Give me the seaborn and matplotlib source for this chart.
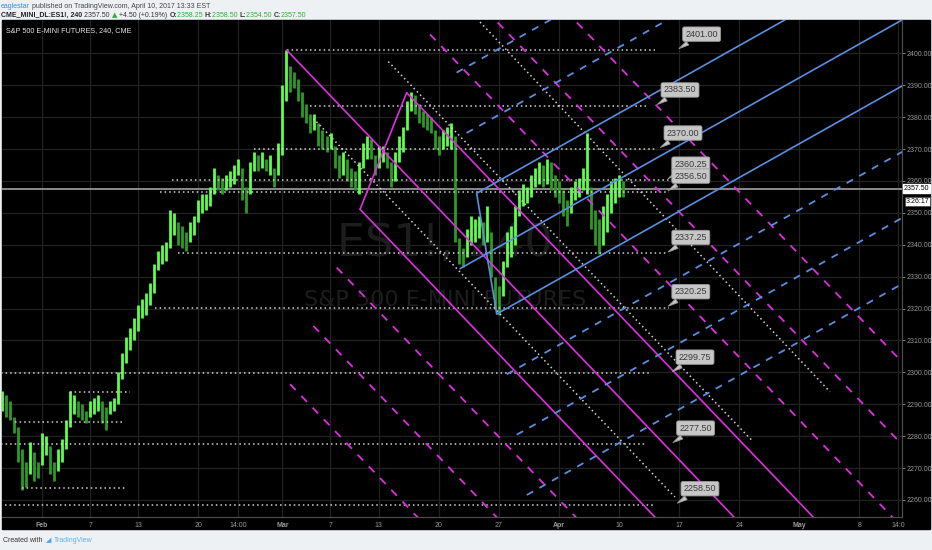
import matplotlib
matplotlib.use("Agg")
import matplotlib.pyplot as plt
import matplotlib.transforms as mtransforms
from matplotlib.patches import Rectangle
import numpy as np
import seaborn as sns

# ===== data =====
# x axis = trading-day index, 0 = Feb 1 2017 (futures chart skips weekends)
X_TICKS = [0, 4, 8, 13, 16.3, 20, 24, 28, 33, 38, 43, 48, 53, 58, 63, 68, 71.2]
X_LABELS = ["Feb", "7", "13", "20", "14:00", "Mar", "7", "13", "20", "27",
            "Apr", "10", "17", "24", "May", "8", "14:0"]
MONTHS = {"Feb", "Mar", "Apr", "May"}
Y_TICKS = list(range(2260, 2401, 10))

# 240 min bars (about three bars per trading day)
BAR_START = -3.33
BARS_PER_DAY = 3
BAR_HIGH = [2294, 2293, 2291, 2286, 2283, 2276, 2272, 2278, 2275, 2272,
            2281, 2280, 2277, 2272, 2276, 2279, 2285, 2294, 2293, 2291,
            2290, 2288, 2291, 2292, 2293, 2291, 2289, 2291, 2292, 2300,
            2306, 2311, 2314, 2317, 2321, 2323, 2325, 2328, 2334, 2338,
            2340, 2341, 2351, 2350, 2347, 2346, 2344, 2347, 2349, 2354,
            2356, 2356, 2358, 2364, 2362, 2361, 2362, 2363, 2365, 2367,
            2364, 2358, 2366, 2369, 2368, 2369, 2367, 2368, 2364, 2372,
            2390, 2401, 2396, 2394, 2392, 2388, 2384, 2381, 2381, 2378,
            2376, 2374, 2375, 2371, 2368, 2369, 2367, 2364, 2363, 2366,
            2372, 2374, 2373, 2368, 2371, 2371, 2369, 2366, 2369, 2374,
            2377, 2385, 2388, 2387, 2384, 2382, 2381, 2380, 2376, 2374,
            2376, 2377, 2378, 2374, 2342, 2339, 2345, 2349, 2348, 2349,
            2347, 2352, 2344, 2330, 2327, 2335, 2344, 2346, 2352, 2357,
            2359, 2358, 2362, 2364, 2366, 2365, 2367, 2366, 2362, 2360,
            2357, 2354, 2358, 2360, 2361, 2364, 2375, 2358, 2351, 2348,
            2352, 2356, 2360, 2361, 2362, 2360]
BAR_LOW = [2288, 2286, 2285, 2281, 2272, 2263, 2264, 2268, 2266, 2267,
           2271, 2274, 2268, 2266, 2269, 2272, 2276, 2283, 2287, 2286,
           2285, 2284, 2286, 2287, 2288, 2284, 2282, 2287, 2288, 2290,
           2298, 2303, 2307, 2310, 2313, 2317, 2318, 2321, 2325, 2332,
           2334, 2335, 2339, 2343, 2340, 2339, 2338, 2341, 2343, 2347,
           2350, 2351, 2352, 2356, 2357, 2356, 2357, 2358, 2359, 2362,
           2354, 2350, 2356, 2363, 2363, 2364, 2363, 2362, 2358, 2362,
           2368, 2385, 2388, 2389, 2385, 2380, 2378, 2375, 2376, 2371,
           2370, 2369, 2370, 2364, 2361, 2362, 2360, 2358, 2357, 2356,
           2364, 2367, 2367, 2362, 2364, 2366, 2364, 2358, 2360, 2366,
           2369, 2376, 2382, 2381, 2378, 2377, 2376, 2375, 2370, 2368,
           2370, 2371, 2370, 2341, 2334, 2333, 2336, 2340, 2341, 2342,
           2340, 2341, 2330, 2320, 2318, 2324, 2333, 2336, 2340, 2349,
           2352, 2353, 2355, 2358, 2359, 2358, 2359, 2357, 2355, 2353,
           2349, 2346, 2350, 2354, 2355, 2357, 2356, 2345, 2340, 2337,
           2340, 2344, 2350, 2353, 2355, 2355]
LAST_PRICE = 2357.50

# horizontal support / resistance levels with callouts
LEVELS = [2401.00, 2383.50, 2370.00, 2360.25, 2356.50, 2337.25, 2320.25,
          2299.75, 2277.50, 2258.50]
LEVEL_START = [20.4, 22.3, 17.6, 10.8, 9.8, 11.3, 9.4, -3.4, -3.4, -3.1]
LEVEL_END = [51.0, 50.4, 51.2, 52.4, 52.2, 52.0, 52.2, 50.7, 50.25, 51.0]
CALLOUT_AT = [52.8, 51.0, 51.25, 51.9, 51.9, 51.9, 51.9, 52.25, 52.3, 52.66]

# short levels in early February (no callout)
MINOR_LEVELS = [2293.9, 2284.5, 2263.6]
MINOR_START = [2.3, -2.25, -1.66]
MINOR_END = [7.3, 6.9, 6.9]

# pitchforks: handle A, B, C as (day index, price)
MAGENTA_FORK = [(20.36, 2401.0), (30.34, 2387.65), (26.46, 2351.1)]
MAGENTA_DASHED = [-4, -3, -2, 2, 3, 4]
BLUE_FORK = [(34.78, 2332.5), (36.16, 2356.11), (37.83, 2318.28)]
BLUE_DASHED = [-3, -2, 2, 3, 4]

# white dotted trend lines (start, end)
WHITE_LINES = [((28.81, 2397.4), (59.18, 2278.2)),
               ((22.57, 2379.6), (52.66, 2260.9)),
               ((36.44, 2409.8), (65.56, 2293.9))]

HEADER_1 = [("eaglestar", "#2f8ee0", "normal"),
            (" published on TradingView.com, April 10, 2017 13:33 EST", "#444444", "normal")]
HEADER_2 = [("CME_MINI_DL:ES1!, 240 ", "#222222", "bold"),
            ("2357.50 ", "#333333", "normal"),
            ("\u25b2", "#2fae3a", "normal"),
            (" +4.50 (+0.19%) ", "#333333", "normal"),
            ("O:", "#333333", "bold"), ("2358.25 ", "#2fae3a", "normal"),
            ("H:", "#333333", "bold"), ("2358.50 ", "#2fae3a", "normal"),
            ("L:", "#333333", "bold"), ("2354.50 ", "#2fae3a", "normal"),
            ("C:", "#333333", "bold"), ("2357.50", "#2fae3a", "normal")]
FOOTER = [("Created with  ", "#333333", "normal"),
          ("\u25e2 ", "#4aa3e8", "normal"),
          ("TradingView", "#5cb0ee", "normal")]

# ===== style =====
sns.set_theme(style="dark")
plt.rcParams["font.family"] = ["Liberation Sans", "DejaVu Sans"]

W, H = 932, 550
XMIN, XMAX = -3.328, 71.55
YMIN, YMAX = 2254.64, 2410.44

MAGENTA = "#e02ee0"
BLUE = "#5b8fe0"
DOTS = "#d2d2d2"
GRID = "#222222"


def fx(px):
    return px / W


def fy(py):
    return 1 - py / H


fig = plt.figure(figsize=(W / 100, H / 100), dpi=100, facecolor="#eef1f4")
fig.patches.append(Rectangle((fx(2), fy(529)), fx(928), (529 - 20) / H,
                             transform=fig.transFigure, color="black", zorder=-5))
ax = fig.add_axes([fx(2), fy(517), fx(900), (517 - 20) / H])
ax.set_zorder(2)
ax.set_facecolor("black")
ax.set_xlim(XMIN, XMAX)
ax.set_ylim(YMIN, YMAX)

# grid
for t in X_TICKS:
    ax.axvline(t, color=GRID, lw=0.9, zorder=1)
for t in Y_TICKS:
    ax.axhline(t, color=GRID, lw=0.9, zorder=1)

bt = mtransforms.blended_transform_factory(ax.transAxes, ax.transData)

# watermark
ax.text(0.492, 2340.5, "ES1!, 240", transform=bt, ha="center", va="center",
        fontsize=32, color="#1d1d1d", family="DejaVu Sans", zorder=1)
ax.text(0.492, 2322.6, "S&P 500 E-MINI FUTURES", transform=bt, ha="center", va="center",
        fontsize=16, color="#1d1d1d", family="DejaVu Sans", zorder=1)

# price bars
bar_x = BAR_START + np.arange(len(BAR_HIGH)) / BARS_PER_DAY
hi = np.array(BAR_HIGH, dtype=float)
lo = np.array(BAR_LOW, dtype=float)
mid = (hi + lo) / 2
up = np.r_[True, mid[1:] >= mid[:-1]]
ax.vlines(bar_x[up], lo[up], hi[up], colors="#5dff4a", lw=2.0, zorder=4)
ax.vlines(bar_x[~up], lo[~up], hi[~up], colors="#2c9b24", lw=2.0, zorder=4)

# current price line
ax.axhline(LAST_PRICE, color="#8a8a8a", lw=1.4, zorder=3)

# horizontal levels
ax.hlines(LEVELS, LEVEL_START, LEVEL_END, colors=DOTS, linestyles=(0, (1, 2)), lw=1.1, zorder=5)
ax.hlines(MINOR_LEVELS, MINOR_START, MINOR_END, colors=DOTS, linestyles=(0, (1, 2)), lw=1.1, zorder=5)

for (p0, p1) in WHITE_LINES:
    ax.plot([p0[0], p1[0]], [p0[1], p1[1]], color=DOTS, ls=(0, (1, 2)), lw=1.1, zorder=5)


def ray(start, direction):
    t = (XMAX + 10 - start[0]) / direction[0]
    end = start + direction * t
    return [start[0], end[0]], [start[1], end[1]]


def pitchfork(points, color, dashed, dash_style):
    a, b, c = (np.array(p, dtype=float) for p in points)
    m = (b + c) / 2
    d = m - a
    ax.plot([b[0], c[0]], [b[1], c[1]], color=color, lw=1.2, zorder=6)
    xs, ys = ray(a, d)
    ax.plot(xs, ys, color=color, lw=1.2, zorder=6)
    for k in (-1, 1):
        xs, ys = ray(m + k * (c - m), d)
        ax.plot(xs, ys, color=color, lw=1.2, zorder=6)
    for k in dashed:
        xs, ys = ray(m + k * (c - m), d)
        ax.plot(xs, ys, color=color, lw=1.3, ls=dash_style, zorder=6)


pitchfork(MAGENTA_FORK, MAGENTA, MAGENTA_DASHED, (0, (4.5, 4.5)))
pitchfork(BLUE_FORK, BLUE, BLUE_DASHED, (0, (4, 4)))

# callouts
for lvl, at in zip(LEVELS, CALLOUT_AT):
    ax.annotate(f"{lvl:.2f}", xy=(at, lvl), xytext=(18, 11.5), textcoords="offset points",
                ha="center", va="center", fontsize=6.5, color="#3a3a3a",
                bbox=dict(boxstyle="round,pad=0.3,rounding_size=0.2", fc="#c6c6c6", ec="#9a9a9a", lw=0.6),
                arrowprops=dict(arrowstyle="wedge,tail_width=0.5", fc="#c6c6c6", ec="#9a9a9a", lw=0.6),
                zorder=8, annotation_clip=False)

# axes
ax.set_xticks(X_TICKS)
ax.set_xticklabels(X_LABELS)
for lab in ax.get_xticklabels():
    if lab.get_text() in MONTHS:
        lab.set_fontweight("bold")
ax.set_yticks(Y_TICKS)
ax.set_yticklabels([f"{v:.2f}" for v in Y_TICKS])
ax.yaxis.tick_right()
ax.tick_params(axis="x", colors="#9a9a9a", labelsize=5, length=2, pad=1.5, width=0.6)
ax.tick_params(axis="y", colors="#9a9a9a", labelsize=5, length=2, pad=1.0, width=0.6)
ax.grid(False)
for side in ("left", "top"):
    ax.spines[side].set_visible(False)
for side in ("right", "bottom"):
    ax.spines[side].set_color("#505050")
    ax.spines[side].set_linewidth(0.8)

ax.text(1.002, LAST_PRICE, f"{LAST_PRICE:.2f}", transform=bt, ha="left", va="center", fontsize=5,
        color="black", bbox=dict(boxstyle="square,pad=0.15", fc="white", ec="white"), zorder=9)
ax.text(1.004, LAST_PRICE - 4.0, "3:26:17", transform=bt, ha="left", va="center", fontsize=5,
        color="black", bbox=dict(boxstyle="square,pad=0.15", fc="white", ec="#444444", lw=0.5), zorder=9)

ax.text(0.004, 0.985, "S&P 500 E-MINI FUTURES, 240, CME", transform=ax.transAxes, ha="left", va="top",
        fontsize=5.2, color="#e8e8e8", zorder=9)

# header / footer, laid out run by run
renderer = fig.canvas.get_renderer()


def text_run(parts, x_px, y_px, size):
    x = x_px
    for txt, col, weight in parts:
        fam = ["DejaVu Sans"] if txt.strip() in ("\u25b2", "\u25e2") else ["Liberation Sans", "DejaVu Sans"]
        t = fig.text(fx(x), fy(y_px), txt, ha="left", va="center", fontsize=size, color=col,
                     fontweight=weight, family=fam)
        x += t.get_window_extent(renderer).width


text_run(HEADER_1, 1, 6, 5.0)
text_run(HEADER_2, 1, 15.5, 5.0)
text_run(FOOTER, 3, 540, 5.0)

fig.savefig("out.png", dpi=100, facecolor=fig.get_facecolor())
